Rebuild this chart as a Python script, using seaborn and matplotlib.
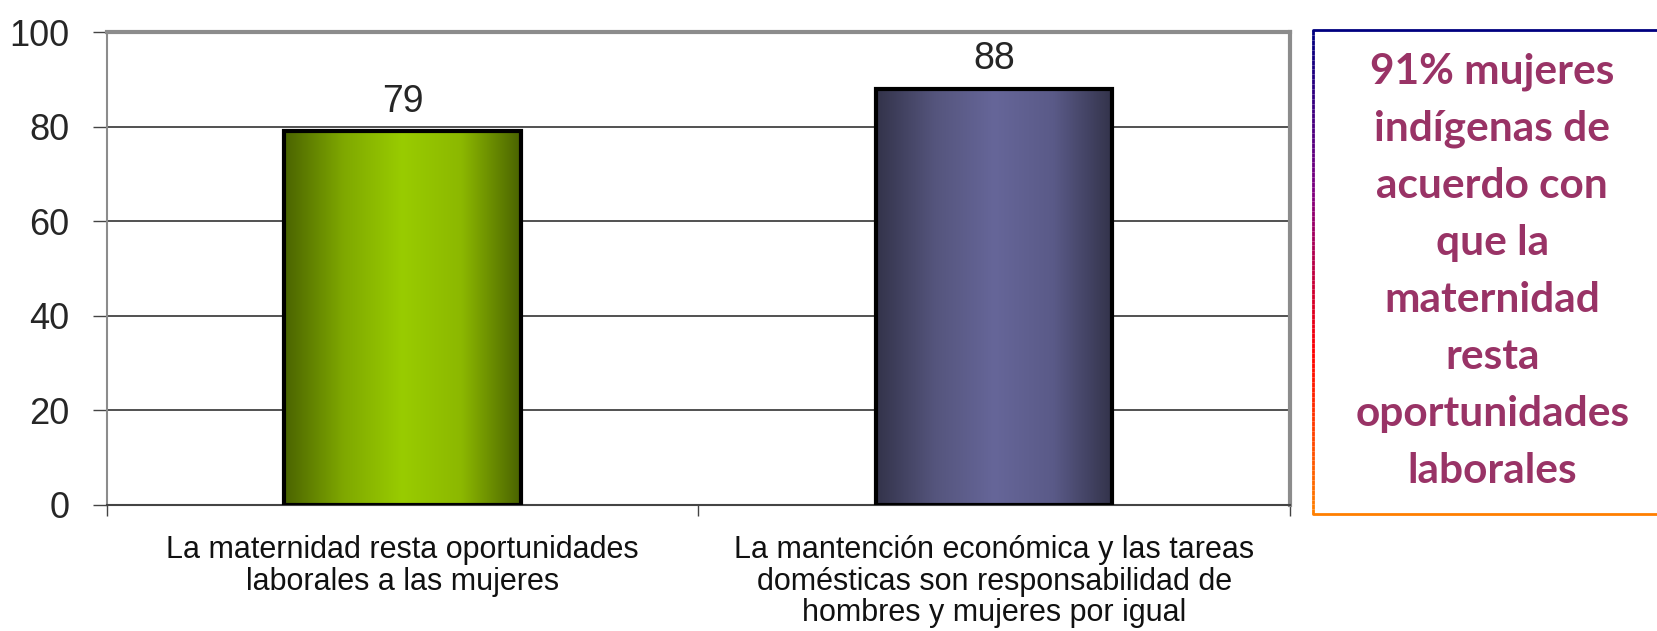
import numpy as np
import pandas as pd
import seaborn as sns
import matplotlib.pyplot as plt
from matplotlib.collections import LineCollection
from matplotlib.colors import LinearSegmentedColormap

# data
categories = ["La maternidad resta oportunidades\nlaborales a las mujeres",
              "La mantención económica y las tareas\ndomésticas son responsabilidad de\nhombres y mujeres por igual"]
values = [79, 88]
y_ticks = [0, 20, 40, 60, 80, 100]
note = "91% mujeres\nindígenas de\nacuerdo con\nque la\nmaternidad\nresta\noportunidades\nlaborales"

df = pd.DataFrame({"cat": categories, "val": values})

sns.set_style("white")
plt.rcParams['font.family'] = ['Liberation Sans', 'DejaVu Sans']

fig = plt.figure(figsize=(16.58, 6.31), dpi=100)
ax = fig.add_axes([0.0645, 0.2, 0.7135, 0.749])

sns.barplot(data=df, x="cat", y="val", ax=ax, width=0.4, color="#99cc00",
            edgecolor="black", linewidth=3, zorder=3)

# gradient fills
grads = [["#4a6300", "#7fa800", "#99cc00", "#8cb800", "#4a6300"],
         ["#33334a", "#55557d", "#666699", "#5a5a88", "#33334a"]]
for p, cols in zip(ax.patches, grads):
    x0, y0 = p.get_x(), p.get_y()
    w, h = p.get_width(), p.get_height()
    cmap = LinearSegmentedColormap.from_list("g", cols)
    im = ax.imshow(np.linspace(0, 1, 256).reshape(1, -1), cmap=cmap, aspect="auto",
                   extent=[x0, x0 + w, y0, y0 + h], zorder=3.5)
    im.set_clip_path(p)
    p.set_facecolor("none")
    p.set_zorder(4)
    ax.text(x0 + w / 2, y0 + h + 2.5, str(int(h)), ha="center", va="bottom", fontsize=27)

ax.set_xlim(-0.5, 1.5)
ax.set_ylim(0, 100)
ax.set_yticks(y_ticks)
ax.set_yticklabels([str(t) for t in y_ticks], fontsize=26)
ax.yaxis.grid(True, color="#333333", linewidth=1.2, zorder=0)
ax.set_xlabel("")
ax.set_ylabel("")
ax.set_xticks([0, 1])
ax.set_xticklabels(categories, fontsize=22, color="#111111", linespacing=1.05)
ax.tick_params(axis="x", length=0, pad=22)
ax.tick_params(axis="y", length=10, width=1, color="#444444", left=True, pad=17)
# category separator ticks
ax.set_xticks([-0.5, 0.5, 1.5], minor=True)
ax.tick_params(axis="x", which="minor", length=8, width=1, color="#444444", bottom=True)

for s in ["top", "right", "left"]:
    ax.spines[s].set_color("#8c8c8c")
ax.spines["top"].set_linewidth(3)
ax.spines["right"].set_linewidth(3)
ax.spines["left"].set_linewidth(1.5)
ax.spines["bottom"].set_color("#444444")
ax.spines["bottom"].set_linewidth(1.5)

# side note box with gradient border
bx0, by0, by1 = 0.792, 0.185, 0.952
ov = fig.add_axes([0, 0, 1, 1], facecolor="none")
ov.set_xlim(0, 1)
ov.set_ylim(0, 1)
ov.axis("off")
ov.plot([bx0, 1.0], [by1, by1], color="#000080", lw=2)
ov.plot([bx0, 1.0], [by0, by0], color="#ff7f00", lw=2)
ys = np.linspace(by1, by0, 100)
segs = [[(bx0, ys[i]), (bx0, ys[i + 1])] for i in range(len(ys) - 1)]
edge_cmap = LinearSegmentedColormap.from_list("e", ["#000080", "#800080", "#ff0000", "#ff7f00"])
ov.add_collection(LineCollection(segs, colors=edge_cmap(np.linspace(0, 1, len(segs))), lw=2))

fig.text(0.9, 0.5705, note, ha="center", va="center", fontsize=30.5, fontweight="bold",
         color="#993366", family=["Lato", "DejaVu Sans"], linespacing=1.61)

fig.savefig("out.png", dpi=100)
